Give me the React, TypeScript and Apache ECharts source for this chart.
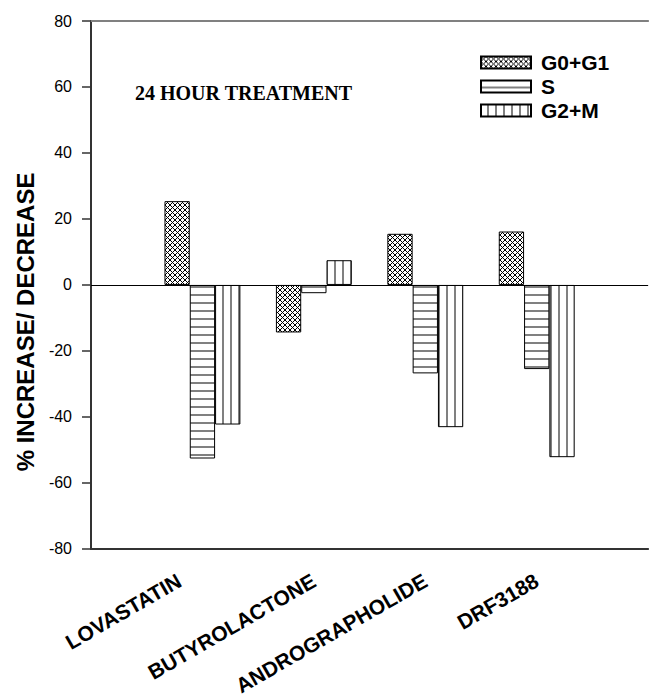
import React, { useEffect, useRef } from "react";
import * as echarts from "echarts";

const categories = ["", "LOVASTATIN", "BUTYROLACTONE", "ANDROGRAPHOLIDE", "DRF3188", ""];
const seriesNames = ["G0+G1", "S", "G2+M"];
const g0g1Values = [null, 25.4, -14.4, 15.5, 16.2, null];
const sValues = [null, -52.6, -2.5, -26.8, -25.5, null];
const g2mValues = [null, -42.3, 7.5, -43.1, -52.2, null];
const yTicks = { min: -80, max: 80, interval: 20 };

function makePattern(kind: string): any {
  const c = document.createElement("canvas");
  const w = kind === "cross" ? 5 : 8;
  const h = kind === "cross" ? 5 : 8;
  c.width = w;
  c.height = h;
  const ctx = c.getContext("2d")!;
  ctx.fillStyle = "#ffffff";
  ctx.fillRect(0, 0, w, h);
  if (kind === "cross") {
    ctx.strokeStyle = "#000000";
    ctx.lineWidth = 1;
    ctx.beginPath();
    ctx.moveTo(0, 0);
    ctx.lineTo(w, h);
    ctx.moveTo(w, 0);
    ctx.lineTo(0, h);
    ctx.stroke();
  } else if (kind === "h") {
    ctx.fillStyle = "#808080";
    ctx.fillRect(0, 6, w, 2);
  } else {
    ctx.fillStyle = "#808080";
    ctx.fillRect(6, 0, 2, h);
  }
  return { image: c, repeat: "repeat" };
}

export default function App() {
  const ref = useRef<HTMLDivElement>(null);
  useEffect(() => {
    if (!ref.current) return;
    const chart = echarts.init(ref.current, null, { renderer: "svg" });
    const sans = "'Liberation Sans', Arial, sans-serif";
    const patterns = [makePattern("cross"), makePattern("h"), makePattern("v")];
    const values = [g0g1Values, sValues, g2mValues];
    const labelFont = { fontFamily: sans, fontWeight: "bold" as const, fontSize: 21, color: "#000" };
    chart.setOption({
      animation: false,
      backgroundColor: "#ffffff",
      grid: { left: 91, right: -6, top: 21, bottom: 141, containLabel: false },
      title: {
        text: "24 HOUR TREATMENT",
        left: 135,
        top: 83,
        padding: 0,
        textStyle: {
          fontFamily: "'Liberation Serif', 'Times New Roman', serif",
          fontWeight: "bold",
          fontSize: 20,
          lineHeight: 20,
          color: "#000",
        },
      },
      legend: {
        orient: "vertical",
        left: 480,
        top: 52,
        padding: 0,
        itemWidth: 50,
        itemHeight: 12,
        itemGap: 3,
        icon: "rect",
        data: seriesNames,
        textStyle: { ...labelFont, lineHeight: 21, padding: [0, 0, 0, 5] },
      },
      xAxis: [
        {
          type: "category",
          data: categories,
          boundaryGap: false,
          axisLine: { onZero: false, lineStyle: { color: "#333", width: 2 } },
          axisTick: { show: false },
          axisLabel: {
            interval: 0,
            rotate: 30,
            margin: 30,
            ...labelFont,
            formatter: (v: string) => (v === "LOVASTATIN" ? `{s|${v}}` : `{n|${v}}`),
            rich: {
              s: { ...labelFont, padding: [0, 20, 23, 0] },
              n: { ...labelFont },
            },
          },
          splitLine: { show: false },
        },
        {
          type: "category",
          data: categories,
          position: "top",
          boundaryGap: false,
          axisLine: { onZero: false, lineStyle: { color: "#808080", width: 2 } },
          axisTick: { show: false },
          axisLabel: { show: false },
          splitLine: { show: false },
        },
      ],
      yAxis: {
        type: "value",
        min: yTicks.min,
        max: yTicks.max,
        interval: yTicks.interval,
        name: "% INCREASE/ DECREASE",
        nameLocation: "middle",
        nameGap: 54,
        nameTextStyle: {
          fontFamily: sans,
          fontWeight: "bold",
          fontSize: 24,
          color: "#000",
          padding: [0, 74, 0, 0],
        },
        axisLine: { show: true, lineStyle: { color: "#333", width: 2 } },
        axisTick: { show: true, length: 9, lineStyle: { color: "#333", width: 1.5 } },
        axisLabel: { margin: 19, fontFamily: sans, fontSize: 16, color: "#000" },
        splitLine: { show: false },
      },
      series: seriesNames.map((name, i) => ({
        name,
        type: "bar",
        data: values[i],
        barWidth: 25.3,
        barGap: "0%",
        itemStyle: { color: patterns[i], borderColor: "#000", borderWidth: 1 },
        emphasis: { disabled: true },
        ...(i === 0
          ? {
              markLine: {
                silent: true,
                symbol: ["none", "none"],
                label: { show: false },
                lineStyle: { color: "#000", width: 1, type: "solid" },
                data: [{ yAxis: 0 }],
              },
            }
          : {}),
      })),
    });
    return () => chart.dispose();
  }, []);
  return (
    <div
      ref={ref}
      style={{ position: "absolute", left: 0, top: 0, width: 656, height: 698 }}
    />
  );
}
